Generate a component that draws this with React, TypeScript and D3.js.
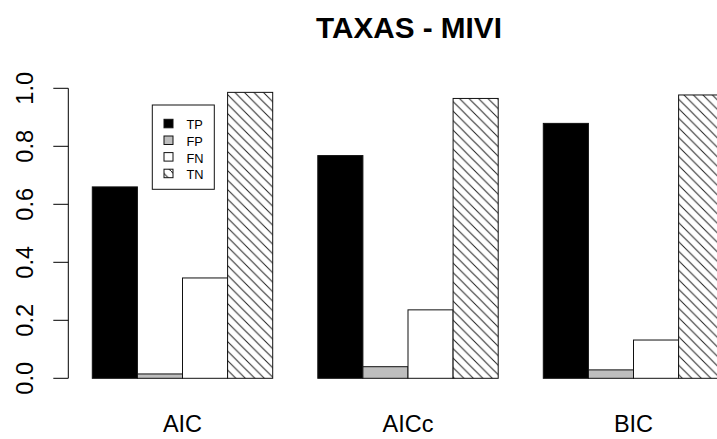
import React from "react";
import * as d3 from "d3";

const title = "TAXAS - MIVI";
const categories = ["AIC", "AICc", "BIC"];
const seriesNames = ["TP", "FP", "FN", "TN"];
const TP = [0.66, 0.768, 0.879];
const FP = [0.015, 0.04, 0.029];
const FN = [0.346, 0.236, 0.132];
const TN = [0.986, 0.965, 0.977];
const yTicks = [0, 0.2, 0.4, 0.6, 0.8, 1.0];

const W = 717;
const H = 439;
const FONT = "'Liberation Sans', Arial, sans-serif";

export default function App() {
  const series = [TP, FP, FN, TN];
  const fills = ["#000000", "#bebebe", "#ffffff", "url(#hatch)"];
  // R barplot units: each bar width 1, 1 unit gap before each group
  const x = d3.scaleLinear().domain([0, 15]).range([47.2, 723.7]);
  const y = d3.scaleLinear().domain([0, 1]).range([378.3, 88.3]);
  const axisX = 68.3;

  const bars: { key: string; x0: number; x1: number; v: number; fill: string }[] = [];
  categories.forEach((c, g) => {
    series.forEach((s, i) => {
      const u = 1 + g * 5 + i;
      bars.push({ key: `${c}-${i}`, x0: x(u), x1: x(u + 1), v: s[g], fill: fills[i] });
    });
  });

  const legX = 152.3;
  const legY = 105;
  const legW = 62;
  const legH = 84.3;
  const rowBase = [129.3, 146, 162.6, 179.2];

  return (
    <svg width={W} height={H} style={{ position: "absolute", left: 0, top: 0, background: "#fff" }}>
      <defs>
        <pattern id="hatch" patternUnits="userSpaceOnUse" width={9.5} height={9.5}>
          <rect width={9.5} height={9.5} fill="#fff" />
          <path d="M-2,-2 L11.5,11.5 M-2,7.5 L2,11.5 M7.5,-2 L11.5,2" stroke="#222" strokeWidth={1} />
        </pattern>
        <pattern id="hatchSmall" patternUnits="userSpaceOnUse" width={9.5} height={9.5} x={0} y={0}>
          <rect width={9.5} height={9.5} fill="#fff" />
          <path d="M-2,-2 L11.5,11.5" stroke="#222" strokeWidth={1} />
        </pattern>
      </defs>
      <rect width={W} height={H} fill="#fff" />
      <text x={409} y={38.3} textAnchor="middle" fontFamily={FONT} fontWeight="bold" fontSize={29.7} fill="#000">
        {title}
      </text>
      {bars.map((b) => (
        <rect
          key={b.key}
          x={b.x0}
          y={y(b.v)}
          width={b.x1 - b.x0}
          height={y(0) - y(b.v)}
          fill={b.fill}
          stroke="#111"
          strokeWidth={1}
        />
      ))}
      <line x1={axisX} x2={axisX} y1={y(1)} y2={y(0)} stroke="#000" strokeWidth={1} />
      {yTicks.map((t) => (
        <g key={t}>
          <line x1={axisX - 15} x2={axisX} y1={y(t)} y2={y(t)} stroke="#000" strokeWidth={1} />
          <text
            transform={`translate(33,${y(t)}) rotate(-90)`}
            textAnchor="middle"
            fontFamily={FONT}
            fontSize={23.5}
            fill="#000"
          >
            {t.toFixed(1)}
          </text>
        </g>
      ))}
      {categories.map((c, g) => (
        <text
          key={c}
          x={x(1 + g * 5 + 2)}
          y={431.7}
          textAnchor="middle"
          fontFamily={FONT}
          fontSize={23.5}
          fill="#000"
        >
          {c}
        </text>
      ))}
      <rect x={legX} y={legY} width={legW} height={legH} fill="#fff" stroke="#111" strokeWidth={1} />
      {seriesNames.map((n, i) => (
        <g key={n}>
          <rect
            x={164}
            y={rowBase[i] - 10}
            width={9}
            height={8.5}
            fill={i === 3 ? "url(#hatchSmall)" : fills[i]}
            stroke="#111"
            strokeWidth={1}
          />
          <text x={186.5} y={rowBase[i]} fontFamily={FONT} fontSize={12.8} fill="#000">
            {n}
          </text>
        </g>
      ))}
    </svg>
  );
}
